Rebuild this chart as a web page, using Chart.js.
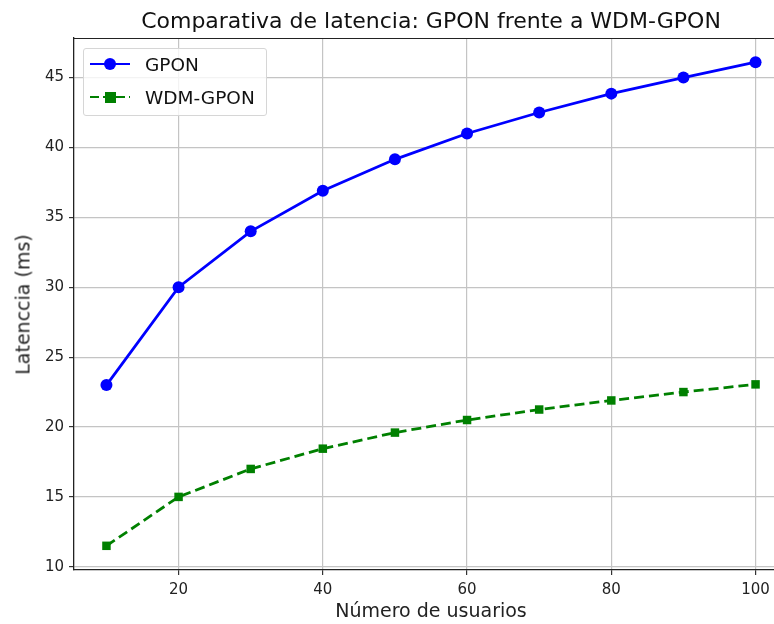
<!DOCTYPE html>
<html>
<head>
<meta charset="utf-8">
<script src="https://cdn.jsdelivr.net/npm/chart.js@4.4.1/dist/chart.umd.min.js"></script>
<style>
  html, body { margin: 0; padding: 0; background: #fff; overflow: hidden; width: 774px; height: 624px; }
  #c { display: block; position: absolute; left: 0; top: 0; }
  .txt { position: absolute; font-family: 'DejaVu Sans', sans-serif; white-space: nowrap; }
  #title { left: 0; width: 862px; top: 10px; font-size: 22px; line-height: 22px; text-align: center; color: #111; }
  #xlabel { left: 0; width: 862px; top: 601px; font-size: 19px; line-height: 19px; text-align: center; color: #222; }
  #ylabel { left: -126.6px; width: 300px; top: 294.5px; font-size: 19px; line-height: 19px; text-align: center; color: #222; transform: rotate(-90deg); }
  #topspine { position: absolute; left: 74px; top: 38px; width: 700px; height: 1.3px; background: #222; }
  #legend { position: absolute; left: 83px; top: 48px; width: 182px; height: 66px; border: 1px solid #d6d6d6; border-radius: 3px; background: rgba(255,255,255,0.8); }
  .sample { position: absolute; left: 90px; width: 40px; height: 2.8px; }
  .marker { position: absolute; }
  .ltxt { left: 145px; font-size: 18.5px; line-height: 18.5px; color: #111; }
</style>
</head>
<body>
<canvas id="c" width="810" height="624"></canvas>
<div id="topspine"></div>
<div id="title" class="txt"></div>
<div id="xlabel" class="txt"></div>
<div id="ylabel" class="txt"></div>
<div id="legend"></div>
<div class="sample" style="top:62.6px; background:#0000ff;"></div>
<div class="marker" style="left:104px; top:58px; width:12px; height:12px; border-radius:50%; background:#0000ff;"></div>
<div class="sample" style="top:95.6px; background:repeating-linear-gradient(90deg, #008000 0 9px, transparent 9px 13px);"></div>
<div class="marker" style="left:104.5px; top:91.5px; width:11px; height:11px; background:#008000;"></div>
<div id="leg0" class="txt ltxt" style="top:55.5px;"></div>
<div id="leg1" class="txt ltxt" style="top:88.5px;"></div>
<script>
// Number of users on the x axis
const users = [10, 20, 30, 40, 50, 60, 70, 80, 90, 100];
// Latency in ms
const gponLatency = [23.0, 30.0, 34.0, 36.9, 39.15, 41.0, 42.5, 43.85, 45.0, 46.1];
const wdmGponLatency = [11.5, 15.0, 17.0, 18.45, 19.6, 20.5, 21.25, 21.9, 22.5, 23.05];
const xTicks = [20, 40, 60, 80, 100];
const yTicks = [10, 15, 20, 25, 30, 35, 40, 45];
const titleText = 'Comparativa de latencia: GPON frente a WDM-GPON';
const xLabel = 'Número de usuarios';
const yLabel = 'Latenccia (ms)';
const seriesNames = ['GPON', 'WDM-GPON'];

const FONT = "'DejaVu Sans', sans-serif";
const BLUE = '#0000ff';
const GREEN = '#008000';

// page text: title, axis labels and legend entries
document.getElementById('title').textContent = titleText;
document.getElementById('xlabel').textContent = xLabel;
document.getElementById('ylabel').textContent = yLabel;
document.getElementById('leg0').textContent = seriesNames[0];
document.getElementById('leg1').textContent = seriesNames[1];

const toPoints = (xs, ys) => xs.map((x, i) => ({ x, y: ys[i] }));

new Chart(document.getElementById('c'), {
  type: 'line',
  data: {
    datasets: [
      {
        label: seriesNames[0],
        data: toPoints(users, gponLatency),
        borderColor: BLUE,
        pointBackgroundColor: BLUE,
        pointBorderColor: BLUE,
        borderWidth: 2.8,
        pointStyle: 'circle',
        pointRadius: 6,
        pointBorderWidth: 0
      },
      {
        label: seriesNames[1],
        data: toPoints(users, wdmGponLatency),
        borderColor: GREEN,
        pointBackgroundColor: GREEN,
        pointBorderColor: GREEN,
        borderWidth: 2.8,
        borderDash: [10, 5],
        pointStyle: 'rect',
        pointRadius: 6,
        pointBorderWidth: 0
      }
    ]
  },
  options: {
    responsive: false,
    animation: false,
    // the plot area runs past the right edge of the visible page
    layout: { padding: { left: 0, top: 38, right: 22, bottom: 0 } },
    plugins: {
      legend: { display: false },
      tooltip: { enabled: false }
    },
    scales: {
      x: {
        type: 'linear',
        min: 5.5,
        max: 104.5,
        afterBuildTicks: s => { s.ticks = xTicks.map(v => ({ value: v })); },
        afterFit: s => { s.height = 54; s.paddingLeft = 0; s.paddingRight = 0; },
        grid: { color: '#c4c4c4', lineWidth: 1.2, tickLength: 5, tickColor: '#333' },
        border: { color: '#222', width: 1.3 },
        ticks: { color: '#222', font: { family: FONT, size: 15 }, padding: 6, maxRotation: 0 }
      },
      y: {
        type: 'linear',
        min: 9.77,
        max: 47.83,
        afterBuildTicks: s => { s.ticks = yTicks.map(v => ({ value: v })); },
        afterFit: s => { s.width = 74; },
        grid: { color: '#c4c4c4', lineWidth: 1.2, tickLength: 5, tickColor: '#333' },
        border: { color: '#222', width: 1.3 },
        ticks: { color: '#222', font: { family: FONT, size: 15 }, padding: 5 }
      }
    }
  }
});
</script>
</body>
</html>
